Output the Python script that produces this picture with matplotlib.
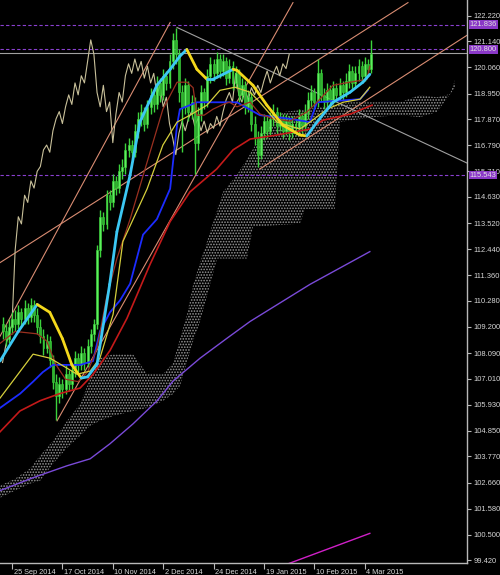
import matplotlib
matplotlib.use("Agg")
import matplotlib.pyplot as plt
import numpy as np
from matplotlib.collections import LineCollection
import matplotlib.transforms as mtrans

plt.rcParams['font.family'] = ['Liberation Sans', 'DejaVu Sans']

# ---------------- data ----------------
date_labels = ["25 Sep 2014", "17 Oct 2014", "10 Nov 2014", "2 Dec 2014",
               "24 Dec 2014", "19 Jan 2015", "10 Feb 2015", "4 Mar 2015"]
date_bars = [3, 19, 35, 51, 67, 83, 99, 115]

price_ticks = [122.220, 121.140, 120.060, 118.950, 117.870, 116.790, 115.710,
               114.630, 113.520, 112.440, 111.360, 110.280, 109.200, 108.090,
               107.010, 105.930, 104.850, 103.770, 102.660, 101.580, 100.500, 99.420]

closes = [109.0, 108.7, 109.2, 109.5, 109.3, 109.8, 109.5, 110.0, 109.6, 110.1,
          109.7, 109.2, 108.8, 108.3, 108.6, 107.8, 106.9, 106.3, 106.8, 106.6,
          107.2, 106.8, 107.4, 107.9, 107.6, 108.1, 107.7, 108.4, 108.9, 109.3,
          112.4, 113.8, 113.5, 114.7, 114.4, 115.3, 115.0, 115.7, 115.9, 116.6,
          116.8, 116.5, 117.4, 117.9, 118.2, 117.7, 118.4, 118.9, 118.5, 119.4,
          118.9, 119.7, 119.4, 120.3, 121.2, 120.6, 119.0, 118.4, 119.3, 118.2,
          118.6, 116.9, 118.1, 119.0, 118.6, 119.7, 120.2, 119.8, 120.4, 119.9,
          120.3, 119.6, 120.1, 119.4, 119.8, 118.9, 119.3, 118.4, 118.8, 117.7,
          117.1, 116.4, 117.3, 117.8, 117.4, 117.9, 118.2, 117.6, 117.9, 117.4,
          117.8, 117.3, 117.7, 117.5, 118.0, 117.6, 118.2, 118.7, 119.0, 118.6,
          119.8, 118.9, 118.6, 119.1, 118.7, 119.2, 118.9, 119.3, 119.0, 119.5,
          119.9, 119.4, 119.8, 120.1, 119.7, 120.2, 120.0, 120.6]

opens = [109.3, 109.0, 108.7, 109.2, 109.5, 109.3, 109.8, 109.5, 110.0, 109.6,
         110.1, 109.7, 109.2, 108.8, 108.3, 108.6, 107.8, 106.9, 106.3, 106.8,
         106.6, 107.2, 106.8, 107.4, 107.9, 107.6, 108.1, 107.7, 108.4, 108.9,
         109.3, 112.4, 113.8, 113.5, 114.7, 114.4, 115.3, 115.0, 115.7, 115.9,
         116.6, 116.8, 116.5, 117.4, 117.9, 118.2, 117.7, 118.4, 118.9, 118.5,
         119.4, 118.9, 119.7, 119.4, 120.3, 121.2, 120.6, 119.0, 118.4, 119.3,
         118.2, 118.6, 116.9, 118.1, 119.0, 118.6, 119.7, 120.2, 119.8, 120.4,
         119.9, 120.3, 119.6, 120.1, 119.4, 119.8, 118.9, 119.3, 118.4, 118.8,
         117.7, 117.1, 116.4, 117.3, 117.8, 117.4, 117.9, 118.2, 117.6, 117.9,
         117.4, 117.8, 117.3, 117.7, 117.5, 118.0, 117.6, 118.2, 118.7, 119.0,
         118.6, 119.8, 118.9, 118.6, 119.1, 118.7, 119.2, 118.9, 119.3, 119.0,
         119.5, 119.9, 119.4, 119.8, 120.1, 119.7, 120.2, 120.0]

highs = [109.6, 109.3, 109.5, 109.8, 109.9, 110.1, 110.0, 110.3, 110.2, 110.4,
         110.3, 110.0, 109.5, 109.1, 108.9, 108.8, 108.0, 107.2, 107.1, 107.0,
         107.6, 107.4, 107.7, 108.2, 108.1, 108.4, 108.3, 108.7, 109.1, 109.5,
         112.6, 114.1, 114.0, 114.9, 114.9, 115.6, 115.5, 116.0, 116.2, 116.9,
         117.1, 117.0, 117.7, 118.2, 118.5, 118.4, 118.7, 119.2, 119.1, 119.7,
         119.6, 120.0, 119.9, 120.6, 121.5, 121.7, 120.8, 119.3, 119.6, 119.5,
         118.9, 118.8, 118.4, 119.3, 119.2, 120.0, 120.5, 120.4, 120.7, 120.6,
         120.6, 120.5, 120.4, 120.3, 120.1, 120.0, 119.6, 119.5, 119.1, 119.0,
         118.0, 117.4, 117.6, 118.1, 118.0, 118.2, 118.5, 118.4, 118.2, 118.1,
         118.1, 118.0, 118.0, 117.9, 118.3, 118.2, 118.5, 119.0, 119.3, 119.2,
         120.4, 120.0, 119.2, 119.4, 119.3, 119.5, 119.4, 119.6, 119.5, 119.8,
         120.2, 120.1, 120.1, 120.4, 120.3, 120.5, 120.4, 121.2]

lows = [108.7, 108.4, 108.5, 108.9, 109.0, 109.1, 109.2, 109.3, 109.3, 109.4,
        109.4, 108.9, 108.5, 108.0, 108.1, 107.5, 106.6, 105.3, 106.0, 106.2,
        106.4, 106.5, 106.6, 107.1, 107.3, 107.4, 107.4, 107.5, 108.1, 108.6,
        109.1, 112.1, 113.2, 113.3, 114.1, 114.2, 114.7, 114.8, 115.4, 115.6,
        116.3, 116.2, 116.3, 117.1, 117.6, 117.4, 117.5, 118.1, 118.2, 118.3,
        118.6, 118.7, 119.1, 119.2, 120.0, 120.2, 118.6, 116.5, 118.1, 117.8,
        117.9, 115.6, 116.6, 117.8, 118.3, 118.4, 119.4, 119.5, 119.6, 119.6,
        119.7, 119.3, 119.4, 119.1, 119.2, 118.6, 118.7, 118.1, 118.2, 117.4,
        116.8, 115.9, 116.2, 117.0, 117.1, 117.2, 117.6, 117.3, 117.4, 117.1,
        117.2, 117.0, 117.1, 117.2, 117.3, 117.3, 117.4, 117.9, 118.4, 118.3,
        118.4, 118.6, 118.3, 118.4, 118.4, 118.5, 118.6, 118.7, 118.7, 118.8,
        119.2, 119.1, 119.2, 119.5, 119.4, 119.5, 119.7, 119.8]

# smoothed colour-changing MA (bar index, price)
ma_fast_x = [-0.8, 5, 11, 15, 19, 22, 25, 27, 30, 34, 36.3, 40.5, 43.6, 49, 53.2,
             56.3, 58.5, 61.7, 64.9, 66.8, 73.2, 74.4, 79.5, 83.9, 89, 94.4, 96.6,
             99.8, 104.9, 110.3, 114.4, 116.6]
ma_fast_y = [107.76, 109.0, 110.13, 109.8, 108.7, 107.6, 107.05, 107.1, 107.63,
             110.97, 113.17, 115.55, 117.76, 119.30, 119.97, 120.52, 120.80, 119.97,
             119.55, 119.55, 119.97, 119.93, 119.30, 118.47, 117.63, 117.22, 117.18,
             117.76, 118.59, 119.01, 119.43, 119.76]

ma_yellow_x = [-0.8, 9.7, 15.1, 20.5, 23.6, 27.8, 30.9, 35.1, 38.2, 45.9, 50.9, 55.4,
               59.5, 64.9, 69, 73.8, 78.6, 81.7, 87.1, 94.4, 97.6, 103, 108.1, 113.5, 116.6]
ma_yellow_y = [106.21, 108.05, 107.88, 107.46, 107.21, 107.34, 107.88, 109.72, 112.76,
               114.97, 116.80, 117.76, 118.05, 118.47, 119.09, 119.22, 119.01, 118.59,
               117.76, 117.47, 117.76, 118.30, 118.59, 118.72, 119.22]

kijun_x = [-0.8, 5.6, 9.7, 12.8, 16, 24.6, 28.7, 30.9, 34.1, 37.3, 40.5, 44.6, 49,
           53.2, 55.4, 56.3, 61.7, 74.4, 81.7, 91.2, 97.6, 99.8, 113.5, 116]
kijun_y = [105.8, 106.4, 106.9, 107.3, 107.6, 107.6, 107.76, 109.0, 109.8, 110.3,
           111.0, 113.05, 113.7, 114.97, 117.63, 118.3, 118.59, 118.59, 118.05, 117.9,
           117.76, 118.59, 118.72, 119.1]

tenkan_x = [-0.8, 4, 11, 14, 17, 20, 24, 27, 30, 33, 36.3, 40.5, 45.9, 50.9, 55.4,
            58.6, 60.5, 61.7, 64, 66.8, 70, 72, 74.4, 78.6, 81.7, 86, 91.2, 96.6,
            99.8, 104.9, 110.3, 115.7, 116.6]
tenkan_y = [108.5, 109.0, 108.9, 108.6, 107.6, 107.0, 106.9, 107.3, 108.3, 110.4,
            112.05, 113.7, 116.09, 118.3, 119.43, 119.43, 119.2, 118.05, 118.05, 118.3,
            118.5, 118.6, 118.4, 118.6, 118.1, 117.9, 117.8, 118.18, 118.59, 119.3,
            119.43, 119.55, 120.1]

ma_red_x = [-0.8, 5.5, 11.9, 18.2, 24.6, 28.7, 34.1, 39.5, 46.8, 53.2, 59.5, 68, 73.2,
            78.6, 87.1, 92.2, 97.6, 101.7, 110.3, 117.3]
ma_red_y = [104.8, 105.67, 106.1, 106.4, 106.63, 107.2, 108.2, 109.55, 111.8, 113.6,
            114.84, 115.8, 116.6, 117.05, 117.22, 117.34, 117.47, 117.84, 118.09, 118.47]

ma_purple_x = [-0.8, 9.7, 20.5, 27.8, 34.1, 41.4, 49, 54.1, 62.7, 71.2, 78.6, 97.6, 116.6]
ma_purple_y = [102.34, 102.88, 103.38, 103.67, 104.30, 105.13, 106.09, 106.92, 107.88,
               108.71, 109.42, 110.97, 112.34]

ma_magenta_x = [85, 116.6]
ma_magenta_y = [99.0, 100.55]

cloud_top_x = [-0.8, 4.0, 8.7, 11.9, 16.0, 20.5, 24.6, 27.8, 30.9, 35.1, 41.4, 45.9,
               50.9, 54.1, 58.6, 60.5, 65.9, 70, 74.4, 77.6, 79.5, 81.7, 89, 96.6,
               104.9, 110.3, 117.6, 126.2, 132.5, 137.9, 142, 143.6]
cloud_top_y = [102.55, 102.84, 103.26, 103.80, 104.42, 105.26, 105.96, 107.01, 107.88,
               108.05, 108.05, 107.21, 107.21, 107.67, 109.72, 110.97, 113.17, 114.84,
               115.55, 116.22, 116.63, 117.13, 118.18, 118.30, 118.47, 118.59, 118.59,
               118.59, 118.89, 118.80, 118.93, 119.51]
cloud_bot_x = [-0.8, 4.0, 8.7, 11.9, 16.0, 20.5, 24.6, 27.8, 30.9, 35.1, 41.4, 45.9,
               50.9, 54.1, 56.3, 60.5, 62.7, 68.1, 77.6, 79.5, 94.4, 96, 105.5, 107.1,
               117.6, 126.2, 132.5, 137.9, 143.6]
cloud_bot_y = [102.04, 102.34, 102.63, 102.75, 103.46, 104.13, 104.63, 105.05, 105.26,
               105.46, 105.67, 105.80, 106.09, 106.38, 106.71, 108.59, 109.42, 112.05,
               112.05, 113.38, 113.51, 114.13, 114.13, 117.76, 117.97, 118.05, 117.97,
               118.18, 119.2]

# trend lines: (x0, y0, x1, y1) in bar index / price
trend_salmon = [(-0.8, 108.80, 53.2, 121.93),
                (17.3, 105.26, 92.2, 122.76),
                (-0.8, 111.88, 128.7, 122.76),
                (81.7, 115.80, 147.4, 121.39)]
trend_gray = [(55.4, 121.72, 147.4, 116.05)]

levels_purple = [121.836, 120.800, 115.543]
level_bid = 120.66

# ---------------- figure ----------------
W, H = 500, 575
fig = plt.figure(figsize=(W / 100, H / 100), dpi=100, facecolor='black')
ax = fig.add_axes([0, 12 / H, 467 / W, 563 / H], facecolor='black')
xmin, xmax = -2.55 / 3.15, (467 - 2.55) / 3.15
ax.set_xlim(xmin, xmax)
ax.set_ylim(99.31, 122.87)

# cloud
grid_x = np.union1d(cloud_top_x, cloud_bot_x)
ct = np.interp(grid_x, cloud_top_x, cloud_top_y)
cb = np.interp(grid_x, cloud_bot_x, cloud_bot_y)
plt.rcParams['hatch.linewidth'] = 0.8
ax.fill_between(grid_x, cb, ct, facecolor='none', edgecolor='#9a9a9a',
                hatch='......', linewidth=0, zorder=1)

# horizontal levels
for lv in levels_purple:
    ax.axhline(lv, color='#8a40d0', lw=0.8, ls=(0, (3, 2)), zorder=2)
ax.axhline(level_bid, color='#a0a0a0', lw=0.8, zorder=2)

# trend lines
for (x0, y0, x1, y1) in trend_salmon:
    ax.plot([x0, x1], [y0, y1], color='#d98c72', lw=0.8, zorder=2)
for (x0, y0, x1, y1) in trend_gray:
    ax.plot([x0, x1], [y0, y1], color='#a0a0a0', lw=0.8, zorder=2)

# long MAs
ax.plot(ma_purple_x, ma_purple_y, color='#7a4ad8', lw=1.0, zorder=2)
ax.plot(ma_magenta_x, ma_magenta_y, color='#d020c8', lw=1.0, zorder=2)

# chikou span (close shifted 26 bars back)
idx = np.arange(len(closes))
ax.plot(idx[26:] - 26, closes[26:], color='#c8c09a', lw=0.8, zorder=3)

# candles
o = np.array(opens); c = np.array(closes); h = np.array(highs); l = np.array(lows)
up = c >= o
ax.vlines(idx, l, h, color='#3cd23c', lw=1.0, zorder=4)
body_lo = np.minimum(o, c)
body_h = np.maximum(np.abs(c - o), 0.06)
ax.bar(idx[up], body_h[up], bottom=body_lo[up], width=0.62, color='#5ef05e',
       edgecolor='#3cd23c', lw=0.4, zorder=5)
ax.bar(idx[~up], body_h[~up], bottom=body_lo[~up], width=0.62, color='#2fb52f',
       edgecolor='#3cd23c', lw=0.4, zorder=5)

# indicator lines
ax.plot(ma_red_x, ma_red_y, color='#c41a1a', lw=1.2, zorder=6)
ax.plot(kijun_x, kijun_y, color='#1c2cff', lw=1.3, zorder=6)
ax.plot(tenkan_x, tenkan_y, color='#9a3020', lw=0.9, zorder=6)
ax.plot(ma_yellow_x, ma_yellow_y, color='#d6cf3c', lw=0.9, zorder=6)

fx = np.array(ma_fast_x); fy = np.array(ma_fast_y)
segs = [[(fx[k], fy[k]), (fx[k + 1], fy[k + 1])] for k in range(len(fx) - 1)]
cols = ['#3cc8f4' if fy[k + 1] >= fy[k] else '#f4d81c' for k in range(len(fx) - 1)]
ax.add_collection(LineCollection(segs, colors=cols, linewidths=2.0, zorder=7,
                                 capstyle='round'))

# axes styling
for s in ['top', 'left']:
    ax.spines[s].set_visible(False)
for s in ['right', 'bottom']:
    ax.spines[s].set_color('#b8b8b8')
    ax.spines[s].set_linewidth(1.0)

ax.yaxis.tick_right()
ax.set_yticks(price_ticks)
ax.set_yticklabels([f"{v:.3f}" for v in price_ticks])
ax.tick_params(axis='y', direction='out', length=3, width=0.8, color='#b8b8b8',
               labelcolor='#d8d8d8', labelsize=5.4, pad=1.5)
ax.set_xticks(date_bars)
ax.set_xticklabels(date_labels)
ax.tick_params(axis='x', direction='out', length=4, width=0.8, color='#b8b8b8',
               labelcolor='#d8d8d8', labelsize=5.3, pad=0.5)
off = mtrans.ScaledTranslation(1.5 / 100, 0, fig.dpi_scale_trans)
for lab in ax.get_xticklabels():
    lab.set_ha('left')
    lab.set_transform(lab.get_transform() + off)

blend = mtrans.blended_transform_factory(ax.transAxes, ax.transData)
for lv in levels_purple:
    ax.text(1.006, lv, f"{lv:.3f}", transform=blend, ha='left', va='center',
            fontsize=5.4, color='#e0e0e0', clip_on=False, zorder=10,
            bbox=dict(boxstyle='square,pad=0.12', fc='#8a38c8', ec='none'))

fig.savefig('out.png', dpi=100, facecolor='black')
